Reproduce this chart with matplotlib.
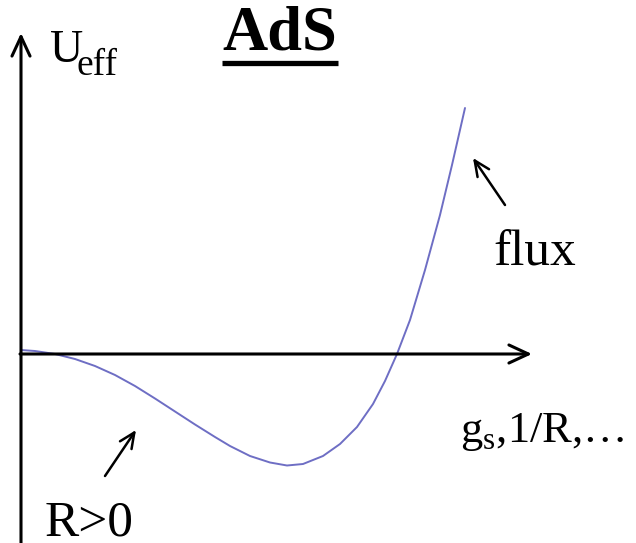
import matplotlib
matplotlib.use("Agg")
import matplotlib.pyplot as plt

# Curve (x along the horizontal axis, U_eff value)
x_vals = [0, 14, 34, 54, 74, 94, 114, 134, 154, 174, 194, 209, 229, 249, 266,
          282, 302, 319, 336, 352, 364, 376, 389, 404, 419, 431, 444]
u_vals = [4, 3, 0, -5, -12, -21, -32, -44.5, -57.5, -70.5, -83, -92, -102,
          -108.5, -111.5, -110, -102, -90, -73, -50, -27, 0, 34, 84, 139, 189, 246]

title = "AdS"
y_label = "U"
y_sub = "eff"
x_label = r"g$_{\mathregular{s}}$,1/R,…"
label_flux = "flux"
label_r = "R>0"

plt.rcParams['font.family'] = ['Liberation Serif', 'DejaVu Serif']
plt.rcParams['mathtext.fontset'] = 'custom'
plt.rcParams['mathtext.rm'] = 'Liberation Serif'

fig = plt.figure(figsize=(6.36, 5.43), dpi=100)
ax = fig.add_axes([0, 0, 1, 1])
ax.set_xlim(-21, 615)
ax.set_ylim(-189, 354)
ax.axis('off')

black = '#000000'
arrow_kw = dict(arrowstyle='->,head_length=14,head_width=6.5', lw=2.2, color=black,
                mutation_scale=1, shrinkA=0, shrinkB=0)

# axes with arrows
ax.annotate('', xy=(0, 321), xytext=(0, -195), arrowprops=arrow_kw)
ax.annotate('', xy=(511, 0), xytext=(-1, 0), arrowprops=arrow_kw)

# curve
ax.plot(x_vals, u_vals, color='#6e6ec4', lw=1.4, solid_capstyle='round',
        solid_joinstyle='round')

# small pointer arrows
ptr_kw = dict(arrowstyle='->,head_length=11,head_width=5', lw=1.8, color=black,
              mutation_scale=1, shrinkA=0, shrinkB=0)
ax.annotate('', xy=(452, 196), xytext=(484, 149), arrowprops=ptr_kw)
ax.annotate('', xy=(115, -76), xytext=(84, -122), arrowprops=ptr_kw)

# texts
ax.text(29, 292, y_label, fontsize=33, ha='left', va='baseline')
ax.text(55, 279, y_sub, fontsize=27, ha='left', va='baseline')
ax.text(259, 304, title, fontsize=45, fontweight='bold', ha='center', va='baseline')
ax.plot([201, 317], [291.5, 291.5], color=black, lw=3.8, solid_capstyle='butt')
ax.text(472, 89, label_flux, fontsize=37, ha='left', va='baseline')
ax.text(24, -182, label_r, fontsize=37, ha='left', va='baseline')
ax.text(439, -88, x_label, fontsize=32, ha='left', va='baseline')

fig.savefig('out.png', dpi=100)
